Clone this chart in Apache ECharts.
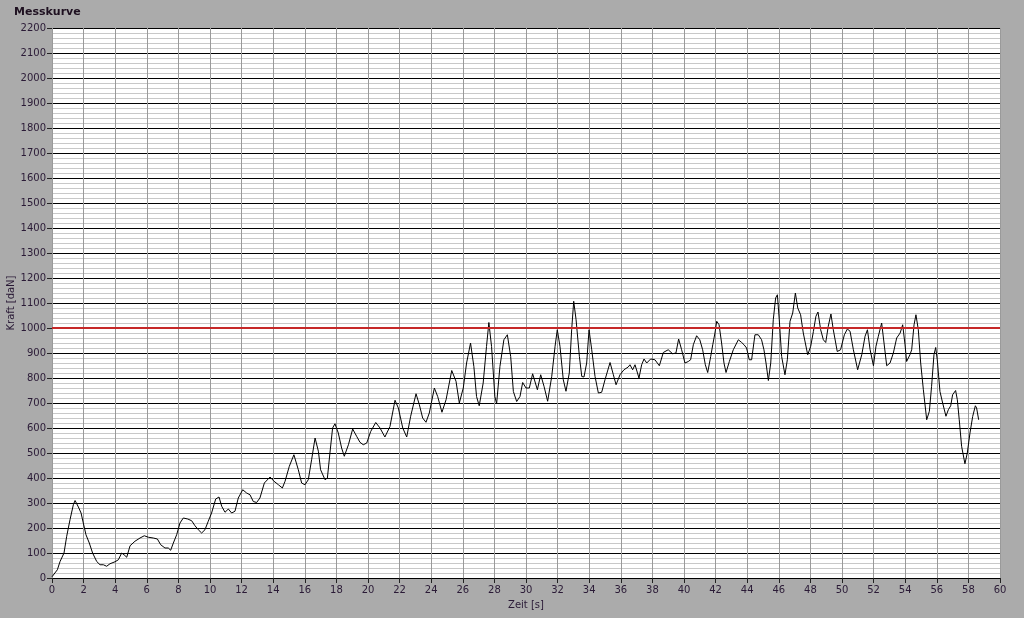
<!DOCTYPE html>
<html>
<head>
<meta charset="utf-8">
<script src="https://cdn.jsdelivr.net/npm/echarts@6/dist/echarts.min.js"></script>
<style>
html,body{margin:0;padding:0;background:#ababab;}
#chart{width:1024px;height:618px;}
</style>
</head>
<body>
<div id="chart"></div>
<script>
// Zeit [s]
const timeS = [0,0.34,0.51,0.76,0.93,1.14,1.35,1.46,1.67,1.84,1.98,2.15,2.36,2.57,2.83,3.04,3.25,3.46,3.67,3.99,4.2,4.41,4.56,4.73,4.94,5.25,5.57,5.84,6.1,6.41,6.67,6.88,7.15,7.36,7.51,7.68,7.89,8.1,8.31,8.59,8.84,9.05,9.26,9.47,9.68,9.89,10.1,10.36,10.57,10.74,10.95,11.16,11.37,11.58,11.79,12.07,12.32,12.53,12.74,12.95,13.16,13.44,13.8,14.05,14.33,14.58,14.75,15.02,15.31,15.59,15.8,16.01,16.22,16.43,16.65,16.86,17.0,17.28,17.43,17.59,17.76,17.91,18.12,18.33,18.5,18.76,19.03,19.28,19.49,19.7,19.92,20.17,20.49,20.76,21.07,21.39,21.71,21.92,22.2,22.45,22.7,23.04,23.25,23.46,23.67,23.88,24.2,24.41,24.68,24.94,25.3,25.57,25.78,26.03,26.24,26.49,26.7,26.87,27.04,27.29,27.5,27.65,27.82,28.03,28.14,28.35,28.6,28.82,29.03,29.2,29.41,29.62,29.79,30.0,30.21,30.42,30.72,30.93,31.14,31.37,31.63,31.84,31.98,32.15,32.36,32.53,32.74,32.89,33.02,33.17,33.38,33.53,33.67,33.84,33.99,34.16,34.37,34.58,34.79,35.0,35.32,35.53,35.7,35.95,36.2,36.47,36.58,36.75,36.9,37.15,37.32,37.47,37.64,37.89,38.16,38.44,38.69,39.0,39.28,39.49,39.66,39.85,40.06,40.27,40.42,40.59,40.8,41.0,41.18,41.35,41.5,41.69,41.82,41.96,42.07,42.22,42.38,42.53,42.66,42.87,43.12,43.22,43.44,43.65,43.8,43.96,44.13,44.28,44.49,44.7,44.91,45.06,45.19,45.34,45.49,45.65,45.8,45.91,46.03,46.18,46.39,46.54,46.71,46.88,47.05,47.2,47.38,47.55,47.83,48.02,48.19,48.35,48.48,48.65,48.82,48.97,49.13,49.3,49.45,49.7,49.91,50.15,50.34,50.51,50.72,50.99,51.25,51.46,51.61,51.78,51.99,52.15,52.3,52.51,52.66,52.83,53.04,53.25,53.46,53.68,53.84,53.99,54.09,54.3,54.41,54.56,54.68,54.83,54.98,55.15,55.36,55.53,55.67,55.82,55.93,56.03,56.2,56.37,56.58,56.73,56.88,57.0,57.19,57.3,57.42,57.57,57.78,57.93,58.1,58.27,58.44,58.52,58.65];
// Kraft [daN]
const forceDaN = [5,33,66,100,167,233,293,310,284,260,220,173,140,100,66,53,53,47,57,65,73,100,93,83,129,147,160,169,163,160,156,133,120,120,111,140,173,220,240,236,229,209,193,180,193,227,260,316,324,287,263,276,260,267,320,353,340,333,306,302,320,380,404,387,373,360,387,447,493,433,380,373,393,473,560,507,433,393,400,500,600,617,580,520,487,533,596,567,543,533,540,586,622,600,564,606,711,680,600,564,647,737,693,640,623,660,760,726,663,713,830,787,700,760,860,940,846,726,689,780,926,1022,926,726,697,846,953,973,886,746,706,726,782,760,760,817,753,813,767,707,807,927,993,927,793,747,820,993,1107,1033,886,806,804,860,993,913,806,740,743,793,862,813,773,813,833,844,853,833,853,800,853,876,860,876,873,849,902,913,897,900,956,913,860,866,873,933,969,953,913,853,822,886,933,980,1027,1013,940,860,822,866,913,913,953,942,933,920,873,873,973,973,953,913,860,790,860,1033,1120,1133,1033,886,813,873,1027,1060,1140,1080,1053,980,893,927,986,1047,1064,993,953,942,1007,1056,993,906,913,973,996,987,913,833,893,967,993,913,849,927,967,1020,940,849,860,900,960,980,1013,933,866,893,913,1013,1053,993,860,753,633,667,767,893,922,873,746,700,647,673,689,733,750,713,633,527,457,500,580,646,689,680,633];
const limitLine = 1000;
const titleText = 'Messkurve';
const xName = 'Zeit [s]';
const yName = 'Kraft [daN]';

const seriesData = timeS.map((t, i) => [t, forceDaN[i]]);
const txt = '#2a1a36';
const chart = echarts.init(document.getElementById('chart'), null, {renderer: 'canvas'});
chart.setOption({
  backgroundColor: '#ababab',
  animation: false,
  title: {
    text: titleText, left: 9, top: 2,
    textStyle: {fontFamily: 'DejaVu Sans', fontSize: 11, fontWeight: 'bold', color: '#1e1020'}
  },
  grid: {left: 52, right: 24, top: 28, bottom: 40, containLabel: false, outerBoundsMode: 'none',
         show: true, backgroundColor: '#ffffff', borderWidth: 0},
  xAxis: {
    type: 'value', min: 0, max: 60, interval: 2,
    name: xName, nameLocation: 'middle', nameGap: 22, nameMoveOverlap: false,
    nameTextStyle: {fontFamily: 'DejaVu Sans', fontSize: 10, color: txt},
    axisLine: {show: false},
    axisTick: {show: true, length: 5, lineStyle: {color: '#222'}},
    axisLabel: {fontFamily: 'DejaVu Sans', fontSize: 10, color: txt, margin: 7,
                formatter: v => String(v)},
    splitLine: {show: true, lineStyle: {color: '#9a9a9a', width: 1}}
  },
  yAxis: {
    type: 'value', min: 0, max: 2200, interval: 100,
    name: yName, nameLocation: 'middle', nameGap: 36, nameMoveOverlap: false,
    nameTextStyle: {fontFamily: 'DejaVu Sans', fontSize: 10, color: txt},
    axisLine: {show: false},
    axisTick: {show: true, length: 5, lineStyle: {color: '#222'}},
    axisLabel: {fontFamily: 'DejaVu Sans', fontSize: 10, color: txt, margin: 6,
                formatter: v => String(v)},
    splitLine: {show: true, lineStyle: {color: '#000000', width: 1}},
    minorTick: {show: false, splitNumber: 5},
    minorSplitLine: {show: true, lineStyle: {color: '#c8c8c8', width: 1}}
  },
  series: [{
    type: 'line',
    data: seriesData,
    showSymbol: false,
    symbol: 'none',
    lineStyle: {color: '#000000', width: 1},
    z: 3,
    markLine: {
      silent: true,
      symbol: 'none',
      label: {show: false},
      lineStyle: {color: '#c62828', width: 2, type: 'solid'},
      data: [{yAxis: limitLine}]
    }
  }]
});
</script>
</body>
</html>
